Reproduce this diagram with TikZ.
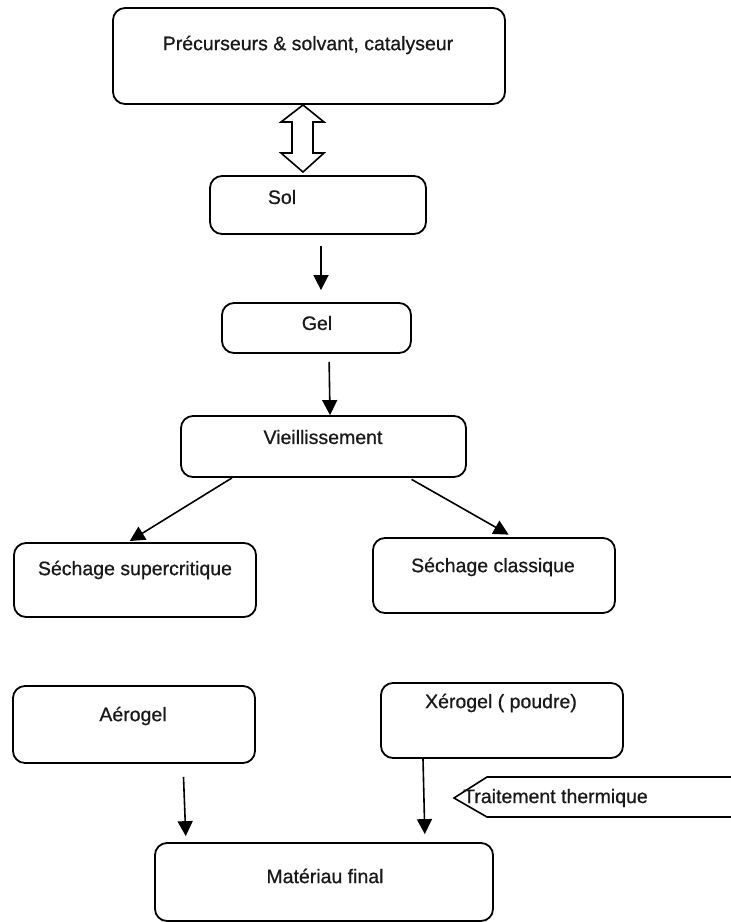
\documentclass[tikz,border=0pt]{standalone}
\usepackage{fontspec}
\setmainfont{Liberation Sans}
\newfontfamily\medfont[FakeBold=0.7]{Liberation Sans}
\usetikzlibrary{arrows.meta}
\tikzset{
  box/.style={draw=black, line width=1.8pt, rounded corners=12pt, inner sep=0pt},
  lbl/.style={font=\medfont\fontsize{19.5}{23}\selectfont, inner sep=0pt, text=black!90},
  arr/.style={line width=1.6pt, -{Triangle[width=15pt,length=15pt]}},
  outline/.style={draw=black, line width=1.6pt, line join=miter}
}
\begin{document}
\begin{tikzpicture}[x=1pt,y=-1pt]
\useasboundingbox (0,0) rectangle (731,922);
\clip (0,0) rectangle (731,922);
\fill[white] (0,0) rectangle (731,922);
% boxes
\node[box, minimum width=392pt, minimum height=96pt] (top) at (309,56) {};
\node[box, minimum width=216pt, minimum height=58pt] (sol) at (318,205) {};
\node[box, minimum width=189pt, minimum height=50pt] (gel) at (316.5,328) {};
\node[box, minimum width=285pt, minimum height=61pt] (vie) at (323.5,446.5) {};
\node[box, minimum width=242pt, minimum height=74pt] (sup) at (135,580) {};
\node[box, minimum width=242pt, minimum height=75pt] (cla) at (494,575.5) {};
\node[box, minimum width=242pt, minimum height=77pt] (aer) at (134,724.5) {};
\node[box, minimum width=242pt, minimum height=75pt] (xer) at (502,720.5) {};
\node[box, minimum width=338pt, minimum height=78pt] (mat) at (324,882) {};
% texts
\node[lbl] (ttop) at (308,45) {Précurseurs \& solvant, catalyseur};
\node[lbl] (tsol) at (282,197) {Sol};
\node[lbl] (tgel) at (317,323) {Gel};
\node[lbl] (tvie) at (323,437) {Vieillissement};
\node[lbl] (tsup) at (135,570) {Séchage supercritique};
\node[lbl] (tcla) at (493,567) {Séchage classique};
\node[lbl] (taer) at (133,716) {Aérogel};
\node[lbl] (txer) at (501,703) {Xérogel ( poudre)};
\node[lbl] (tmat) at (325,876) {Matériau final};
% double arrow
\draw[outline] (303,105) -- (324,122) -- (313,122) -- (313,153) -- (324,153) -- (303,172)
  -- (281,153) -- (292,153) -- (292,122) -- (281,122) -- cycle;
% heat-treatment tag
\draw[outline] (740,777) -- (487,777) -- (454,798) -- (487,817) -- (740,817);
\node[lbl, anchor=west] (ttrait) at (463,798) {Traitement thermique};
% connectors
\draw[arr, shorten <=11pt, shorten >=12pt] ([xshift=3pt]sol.south) -- ([xshift=4.5pt]gel.north);
\draw[arr, shorten <=8pt] ([xshift=12.5pt]gel.south) -- ([xshift=6.5pt]vie.north);
\draw[arr, shorten >=2pt] ([xshift=-91.5pt]vie.south) -- ([xshift=-7pt]sup.north);
\draw[arr, shorten <=3pt, shorten >=5pt] ([xshift=85.5pt]vie.south) -- ([xshift=19pt]cla.north);
\draw[arr, shorten <=13pt, shorten >=6pt] ([xshift=49pt]aer.south) -- ([xshift=-138pt]mat.north);
\draw[arr, shorten >=8pt] ([xshift=-79pt]xer.south) -- ([xshift=101pt]mat.north);
\end{tikzpicture}
\end{document}
